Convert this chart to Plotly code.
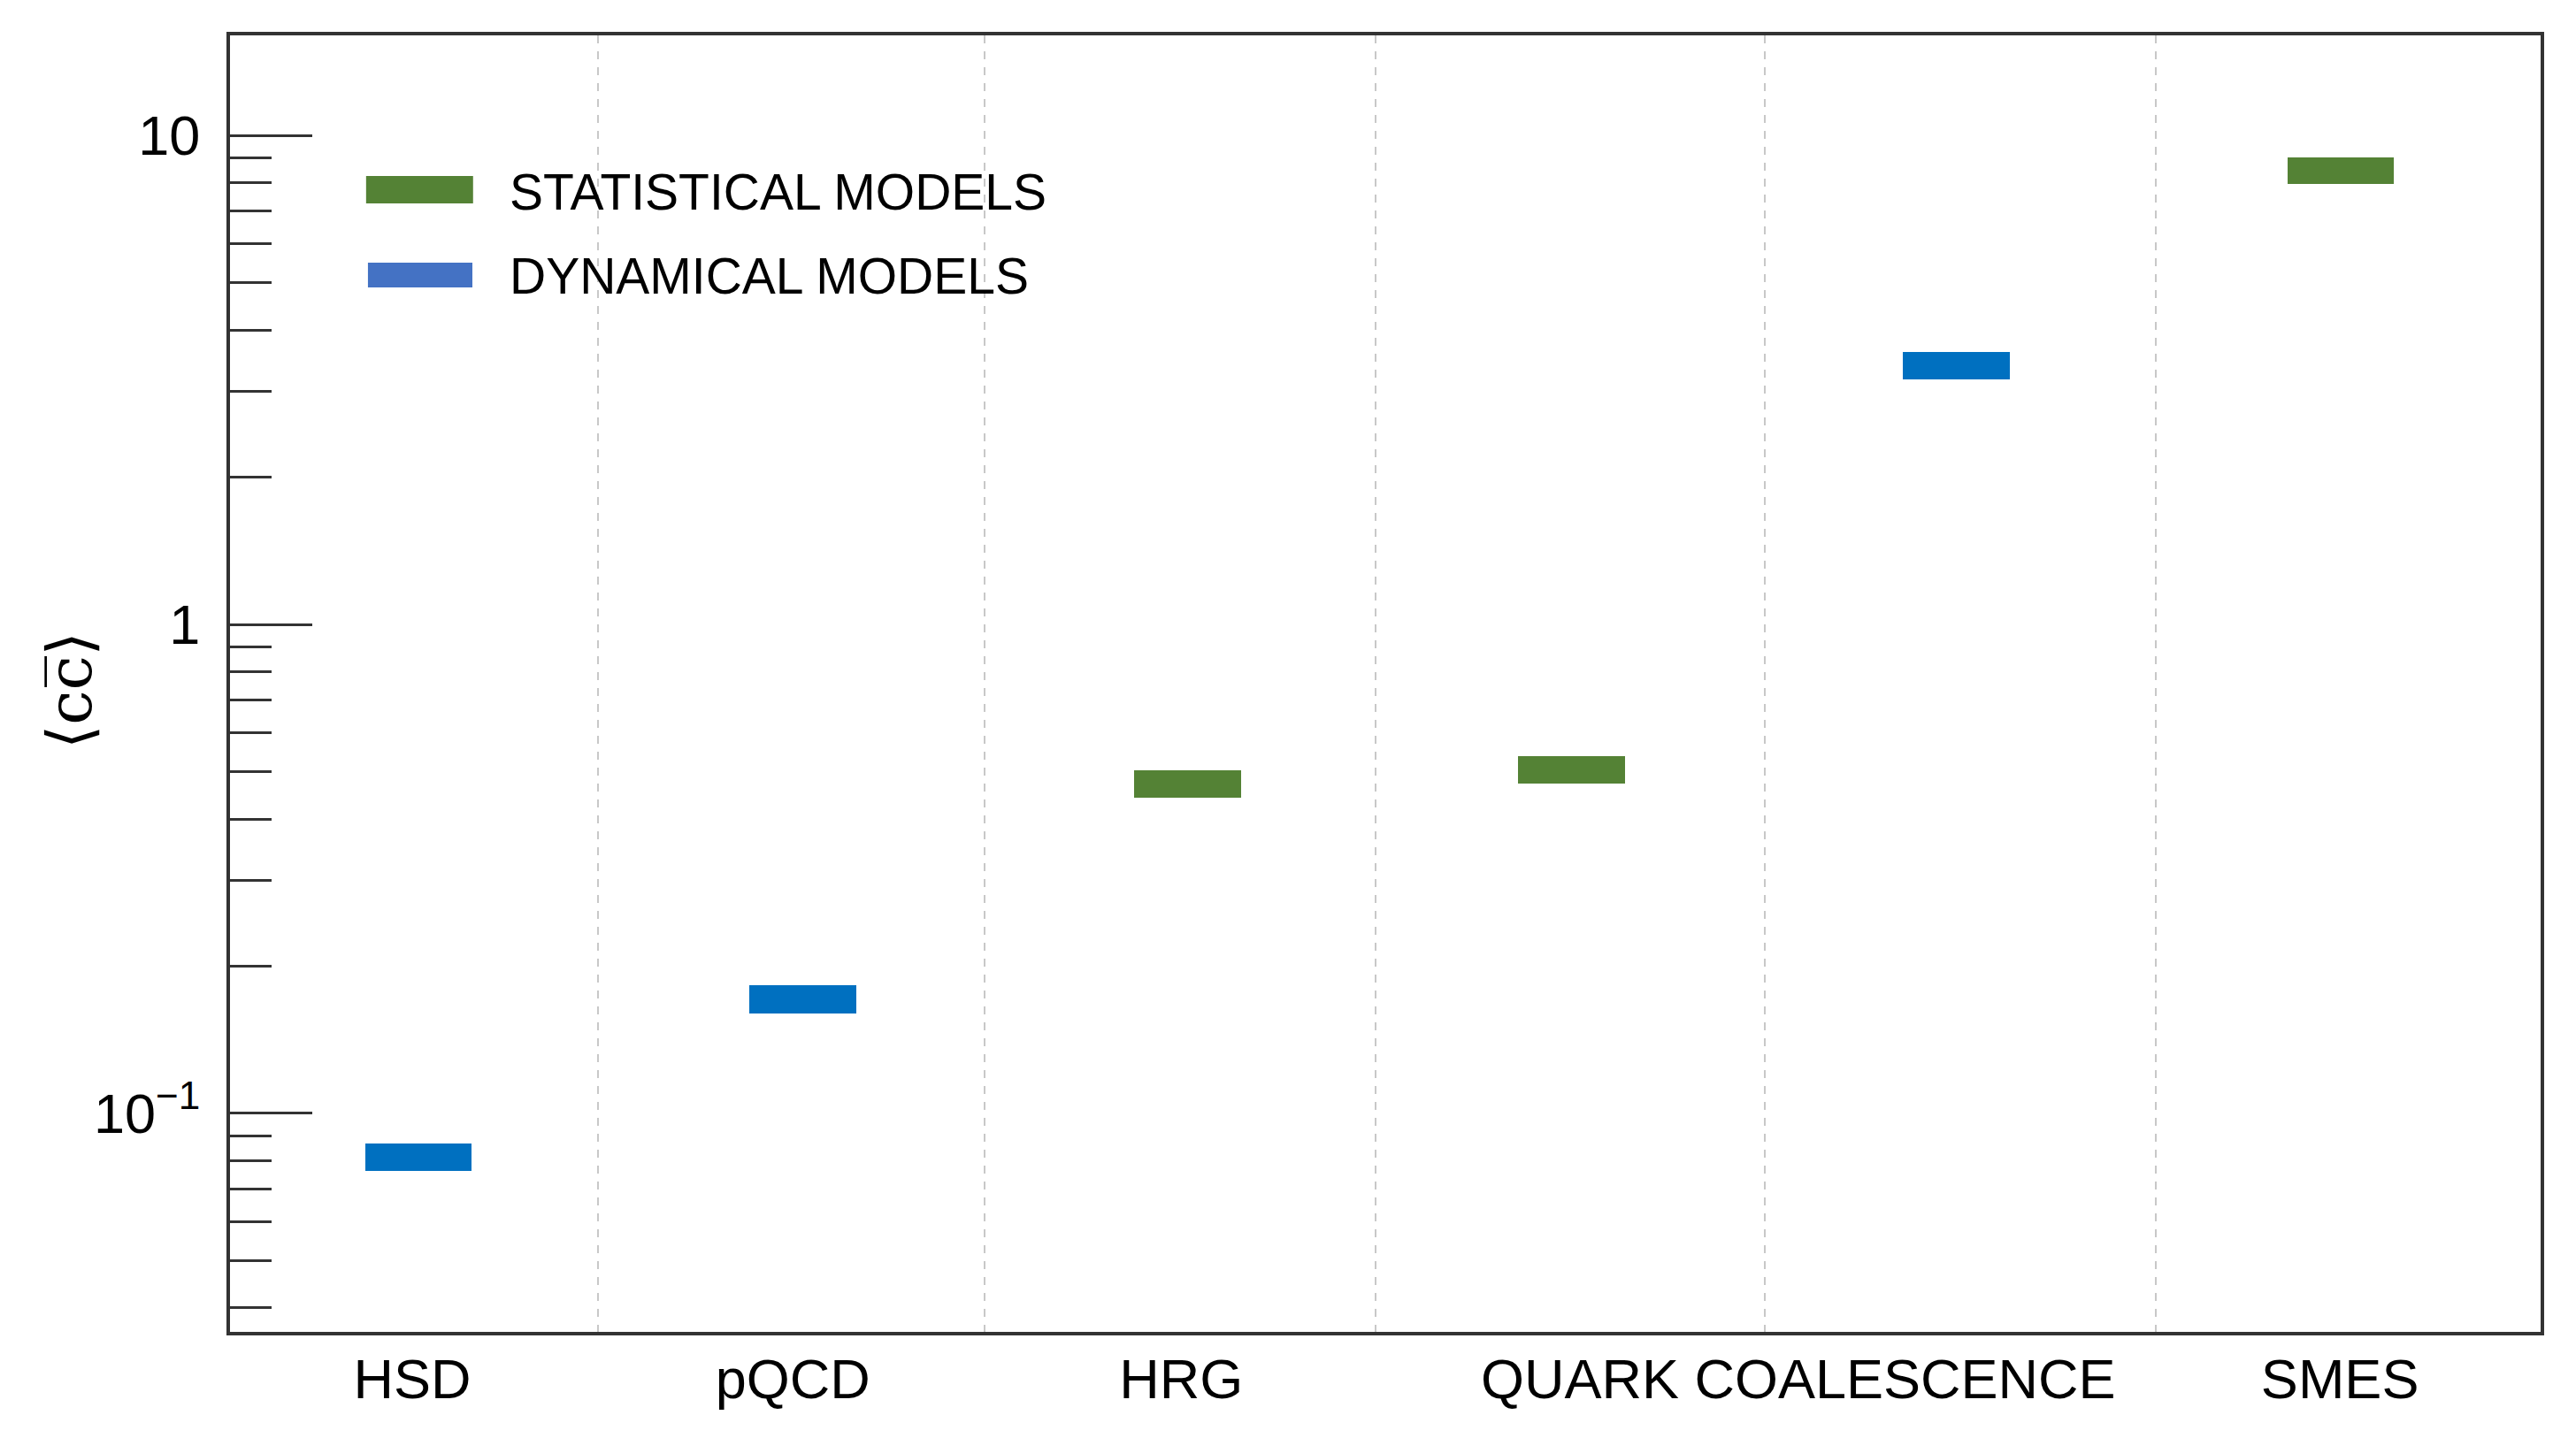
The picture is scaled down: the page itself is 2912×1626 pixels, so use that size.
import plotly.graph_objects as go

# ---- data ----
models = ["HSD", "pQCD", "HRG", "QUARK COALESCENCE (stat.)", "QUARK COALESCENCE (dyn.)", "SMES"]
model_type = ["dynamical", "dynamical", "statistical", "statistical", "dynamical", "statistical"]
cc_low = [0.0762, 0.1601, 0.442, 0.4727, 3.172, 7.96]
cc_high = [0.0868, 0.1829, 0.503, 0.538, 3.608, 9.02]

category_labels = ["HSD", "pQCD", "HRG", "QUARK COALESCENCE", "SMES"]
legend_labels = ["STATISTICAL MODELS", "DYNAMICAL MODELS"]
y_tick_vals = [0.1, 1, 10]
y_tick_text = ["10<sup>\u22121</sup>", "1", "10"]
y_minor_vals = [0.04, 0.05, 0.06, 0.07, 0.08, 0.09,
                0.2, 0.3, 0.4, 0.5, 0.6, 0.7, 0.8, 0.9,
                2, 3, 4, 5, 6, 7, 8, 9]

bar_colors = {"statistical": "#548235", "dynamical": "#0070C0"}
legend_colors = ["#548235", "#4472C4"]

W, H = 2904, 1618
ML, MR, MT, MB = 252, 40, 32, 120
FONT = "Liberation Sans, Arial, Helvetica, sans-serif"
AXC = "#333333"

positions = list(range(len(models)))
lengths = [h - l for l, h in zip(cc_low, cc_high)]

fig = go.Figure()
fig.add_trace(go.Bar(
    x=positions,
    y=lengths,
    base=cc_low,
    width=0.278,
    marker=dict(color=[bar_colors[t] for t in model_type], line=dict(width=0)),
    customdata=models,
    hovertemplate="%{customdata}<extra></extra>",
    showlegend=False,
))

# manual legend (swatches + labels)
sw = [(0.0589, 0.1052, 0.8704, 0.8915), (0.0597, 0.1049, 0.8056, 0.8247)]
ty = [0.8793, 0.8145]
for (x0, x1, y0, y1), c, lab, yy in zip(sw, legend_colors, legend_labels, ty):
    fig.add_shape(type="rect", xref="paper", yref="paper",
                  x0=x0, x1=x1, y0=y0, y1=y1,
                  fillcolor=c, line=dict(width=0), layer="above")
    fig.add_annotation(xref="paper", yref="paper", x=0.1203, y=yy,
                       xanchor="left", yanchor="middle", showarrow=False,
                       text=lab, font=dict(family=FONT, size=57, color="black"))

# y-axis title
fig.add_annotation(xref="paper", yref="paper", x=-0.069, y=0.495,
                   xanchor="center", yanchor="middle", showarrow=False,
                   textangle=-90, text="\u27e8cc\u0305\u27e9",
                   font=dict(family="DejaVu Serif, Liberation Serif, serif", size=70, color="black"))

fig.update_layout(
    width=W, height=H,
    margin=dict(l=ML, r=MR, t=MT, b=MB),
    paper_bgcolor="white", plot_bgcolor="white",
    bargap=0,
    xaxis=dict(
        type="linear", range=[-0.49, 5.52],
        tickvals=[-0.016, 0.974, 1.984, 3.589, 4.998], ticktext=category_labels,
        ticks="", showgrid=False, zeroline=False,
        ticklabelstandoff=-5,
        showline=True, mirror=True, linecolor=AXC, linewidth=4,
        tickfont=dict(family=FONT, size=63, color="black"),
        minor=dict(tickvals=[0.467, 1.472, 2.489, 3.503, 4.52], ticks="",
                   showgrid=True, gridcolor="#c8c8c8", gridwidth=2, griddash="dash"),
    ),
    yaxis=dict(
        type="log", range=[-1.447, 1.205],
        tickvals=y_tick_vals, ticktext=y_tick_text,
        ticks="inside", ticklen=93, tickwidth=3, tickcolor=AXC,
        ticklabelstandoff=17,
        showgrid=False, zeroline=False,
        showline=True, mirror=True, linecolor=AXC, linewidth=4,
        tickfont=dict(family=FONT, size=63, color="black"),
        minor=dict(tickvals=y_minor_vals, ticks="inside", ticklen=47,
                   tickwidth=3, tickcolor=AXC, showgrid=False),
    ),
)

fig.write_html("out.html")
